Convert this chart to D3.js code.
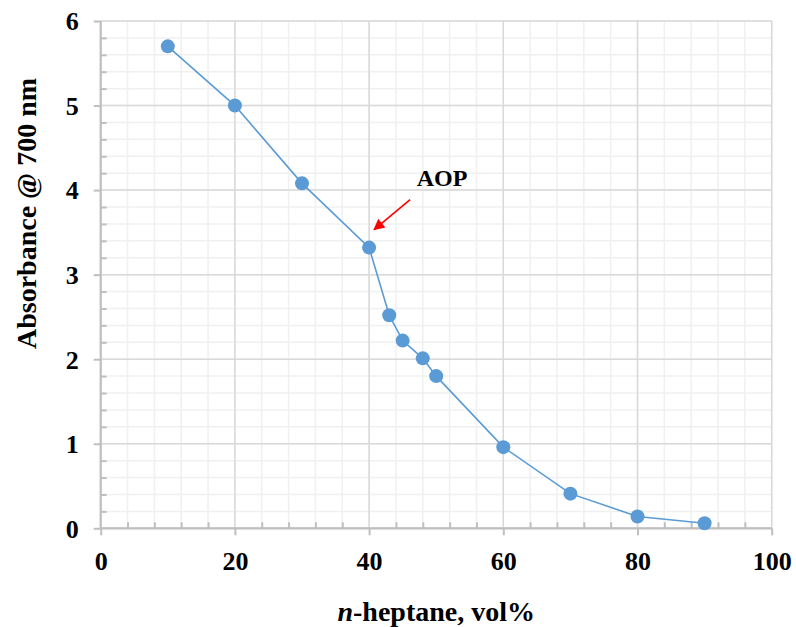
<!DOCTYPE html>
<html>
<head>
<meta charset="utf-8">
<script src="https://cdn.jsdelivr.net/npm/d3@7"></script>
<style>
  html, body { margin: 0; padding: 0; background: #fff; }
  svg text { font-family: "Liberation Serif", "Times New Roman", serif; font-weight: bold; fill: #000; }
</style>
</head>
<body>
<svg id="chart" width="796" height="627"></svg>
<script>
// n-heptane volume fraction (vol%) and absorbance at 700 nm
const heptane = [10, 20, 30, 40, 43, 45, 48, 50, 60, 70, 80, 90];
const absorbance = [5.70, 5.00, 4.08, 3.32, 2.52, 2.22, 2.01, 1.80, 0.96, 0.41, 0.14, 0.06];
const xTicks = [0, 20, 40, 60, 80, 100];
const yTicks = [0, 1, 2, 3, 4, 5, 6];
const annotation = { label: "AOP", x: 40, y: 3.32 };

const svg = d3.select("#chart");
const W = 796, H = 627;
const margin = { left: 100.7, right: W - 771.7, top: 21, bottom: H - 528.3 };
const serif = '"Liberation Serif", "Times New Roman", serif';

const x = d3.scaleLinear().domain([0, 100]).range([margin.left, W - margin.right]);
const y = d3.scaleLinear().domain([0, 6]).range([H - margin.bottom, margin.top]);

const xMinor = d3.range(0, 100.001, 4);
const yMinor = d3.range(0, 6.001, 0.2);

// minor grid
const grid = svg.append("g");
grid.selectAll("line.xm").data(xMinor).join("line")
  .attr("x1", d => x(d)).attr("x2", d => x(d))
  .attr("y1", y(0)).attr("y2", y(6))
  .attr("stroke", "#f0f0f0").attr("stroke-width", 1.5);
grid.selectAll("line.ym").data(yMinor).join("line")
  .attr("x1", x(0)).attr("x2", x(100))
  .attr("y1", d => y(d)).attr("y2", d => y(d))
  .attr("stroke", "#f0f0f0").attr("stroke-width", 1.5);

// major grid
grid.selectAll("line.xM").data(xTicks).join("line")
  .attr("x1", d => x(d)).attr("x2", d => x(d))
  .attr("y1", y(0)).attr("y2", y(6))
  .attr("stroke", "#d9d9d9").attr("stroke-width", 1.5);
grid.selectAll("line.yM").data(yTicks).join("line")
  .attr("x1", x(0)).attr("x2", x(100))
  .attr("y1", d => y(d)).attr("y2", d => y(d))
  .attr("stroke", "#d9d9d9").attr("stroke-width", 1.5);

// axes
const axisColor = "#bfbfbf";
const xAxis = svg.append("g").attr("transform", `translate(0,${y(0)})`)
  .call(d3.axisBottom(x).tickValues(xTicks).tickSize(7).tickPadding(16).tickFormat(d3.format("d")));
const yAxis = svg.append("g").attr("transform", `translate(${x(0)},0)`)
  .call(d3.axisLeft(y).tickValues(yTicks).tickSize(7).tickPadding(15).tickFormat(d3.format("d")));

// minor ticks pointing into the plot
svg.append("g").attr("transform", `translate(0,${y(0)})`)
  .call(d3.axisBottom(x).tickValues(xMinor.filter(v => v % 20 !== 0)).tickSize(-6).tickFormat(""))
  .call(g => g.select(".domain").remove());
svg.append("g").attr("transform", `translate(${x(0)},0)`)
  .call(d3.axisLeft(y).tickValues(yMinor.filter(v => Math.abs(v - Math.round(v)) > 1e-6)).tickSize(-6).tickFormat(""))
  .call(g => g.select(".domain").remove());

svg.selectAll(".domain").attr("stroke", axisColor).attr("stroke-width", 2.2);
svg.selectAll(".tick line").attr("stroke", axisColor).attr("stroke-width", 2);
svg.selectAll(".tick text")
  .attr("font-family", serif).attr("font-weight", "bold").attr("font-size", 26)
  .style("font-family", serif).style("font-weight", "bold").style("font-size", "26px")
  .attr("fill", "#000");
yAxis.selectAll(".tick text").attr("dy", "0.34em");

// axis domains without end caps
yAxis.select(".domain").attr("d", `M0,${y(0)}V${y(6)}`);
xAxis.select(".domain").attr("d", `M${x(0)},0H${x(100)}`);

// series line and markers
const line = d3.line().x((d, i) => x(heptane[i])).y(d => y(d));
svg.append("path").datum(absorbance)
  .attr("d", line).attr("fill", "none")
  .attr("stroke", "#5b9bd5").attr("stroke-width", 1.6);
svg.selectAll("circle.pt").data(absorbance).join("circle")
  .attr("cx", (d, i) => x(heptane[i])).attr("cy", d => y(d))
  .attr("r", 7).attr("fill", "#5b9bd5");

// annotation arrow
svg.append("defs").append("marker")
  .attr("id", "arrowhead").attr("viewBox", "0 0 10 10")
  .attr("refX", 9).attr("refY", 5)
  .attr("markerWidth", 8).attr("markerHeight", 7)
  .attr("markerUnits", "strokeWidth")
  .attr("orient", "auto")
  .append("path").attr("d", "M0,0L10,5L0,10z").attr("fill", "#ff0000");

const ax = x(annotation.x), ay = y(annotation.y);
svg.append("line")
  .attr("x1", ax + 41).attr("y1", ay - 48)
  .attr("x2", ax + 5).attr("y2", ay - 18)
  .attr("stroke", "#ff0000").attr("stroke-width", 1.6)
  .attr("marker-end", "url(#arrowhead)");
svg.append("text")
  .attr("x", ax + 73).attr("y", ay - 62)
  .attr("text-anchor", "middle")
  .attr("font-size", 24).style("font-size", "24px")
  .text(annotation.label);

// axis titles
const xt = svg.append("text")
  .attr("x", (x(0) + x(100)) / 2).attr("y", 621)
  .attr("text-anchor", "middle").attr("font-size", 28).style("font-size", "28px");
xt.append("tspan").style("font-style", "italic").text("n");
xt.append("tspan").text("-heptane, vol%");

svg.append("text")
  .attr("transform", "translate(36,213.5) rotate(-90)")
  .attr("text-anchor", "middle").attr("font-size", 28).style("font-size", "28px")
  .text("Absorbance @ 700 nm");
</script>
</body>
</html>
